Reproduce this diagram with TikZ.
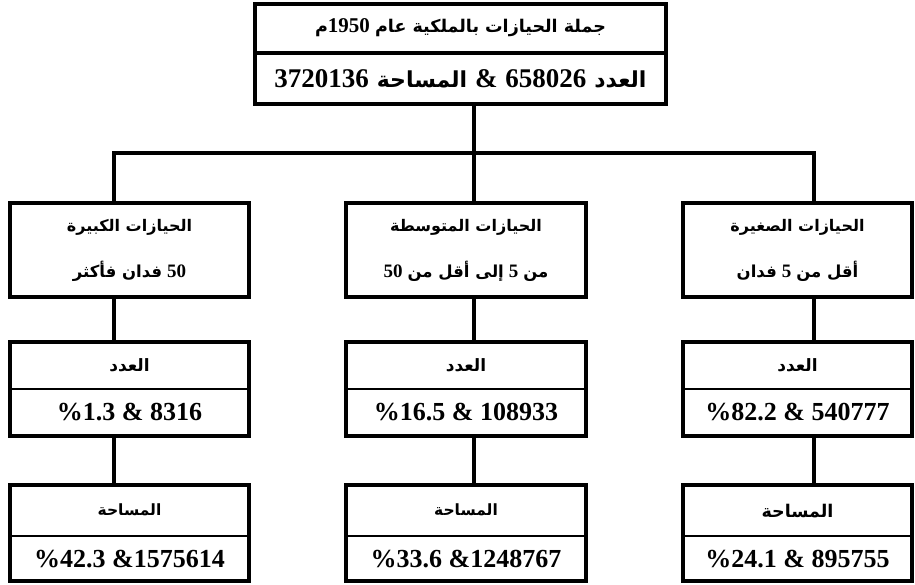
\documentclass[tikz,border=0pt]{standalone}
\usepackage{fontspec}
\TeXXeTstate=1
\newfontfamily\arabicfont[Script=Arabic]{DejaVu Sans}
\newfontfamily\numfont{Liberation Serif}
% Arabic words, numbers and size switches
\newcommand\arw[1]{{\arabicfont\bfseries #1}}
\newcommand\nm[1]{\beginL{\numfont\bfseries #1}\endL}
\newcommand\sz[1]{\fontsize{#1}{#1}\selectfont}

\begin{document}
\begin{tikzpicture}[x=1pt,y=-1pt,
  frame/.style={draw, rectangle, line width=4pt, inner sep=0pt},
  thick rule/.style={line width=4pt},
  thin rule/.style={line width=1.3pt},
  link/.style={line width=4pt},
  lbl/.style={inner sep=0pt, anchor=center}]
\useasboundingbox (0,0) rectangle (915,584);

% ---- top box ----
\node[frame, minimum width=411pt, minimum height=100pt] (top) at (460.5,54) {};
\draw[thick rule] (top.west |- 0,53) -- (top.east |- 0,53);
\node[lbl] (topA) at (460.5,28) {\sz{17.5}\beginR\arw{جملة الحيازات بالملكية عام} \nm{\sz{21}1950}\arw{م}\endR};
\node[lbl] (topB) at (460.5,79) {\sz{26}\beginR\arw{\sz{22}العدد} \nm{\sz{27}658026} \nm{\sz{27}\&} \arw{\sz{22}المساحة} \nm{\sz{27}3720136}\endR};

% ---- category boxes ----
\node[frame, minimum width=239pt, minimum height=94pt] (lg1) at (129.5,250) {};
\node[frame, minimum width=240pt, minimum height=94pt] (md1) at (466,250) {};
\node[frame, minimum width=229pt, minimum height=94pt] (sm1) at (797.5,250) {};

\node[lbl] (lg1a) at (129.5,227) {\sz{16}\beginR\arw{الحيازات الكبيرة}\endR};
\node[lbl] (lg1b) at (129.5,271) {\sz{16.5}\beginR\nm{\sz{19}50} \arw{فدان فأكثر}\endR};
\node[lbl] (md1a) at (466,227) {\sz{16}\beginR\arw{الحيازات المتوسطة}\endR};
\node[lbl] (md1b) at (466,271) {\sz{16.5}\beginR\arw{من} \nm{\sz{19}5} \arw{إلى أقل من} \nm{\sz{19}50}\endR};
\node[lbl] (sm1a) at (797.5,227) {\sz{16}\beginR\arw{الحيازات الصغيرة}\endR};
\node[lbl] (sm1b) at (797.5,271) {\sz{16.5}\beginR\arw{أقل من} \nm{\sz{19}5} \arw{فدان}\endR};

% ---- count boxes ----
\node[frame, minimum width=239pt, minimum height=94pt] (lg2) at (129.5,389) {};
\node[frame, minimum width=240pt, minimum height=94pt] (md2) at (466,389) {};
\node[frame, minimum width=229pt, minimum height=94pt] (sm2) at (797.5,389) {};
\foreach \b in {lg2,md2,sm2} \draw[thin rule] (\b.west) -- (\b.east);

\node[lbl] (lg2a) at (129.5,365) {\sz{17}\beginR\arw{العدد}\endR};
\node[lbl] (md2a) at (466,365) {\sz{17}\beginR\arw{العدد}\endR};
\node[lbl] (sm2a) at (797.5,365) {\sz{17}\beginR\arw{العدد}\endR};
\node[lbl] (lg2b) at (129.5,412) {\numfont\bfseries\sz{26}\%1.3 \& 8316};
\node[lbl] (md2b) at (466,412) {\numfont\bfseries\sz{26}\%16.5 \& 108933};
\node[lbl] (sm2b) at (797.5,412) {\numfont\bfseries\sz{26}\%82.2 \& 540777};

% ---- area boxes ----
\node[frame, minimum width=239pt, minimum height=96pt] (lg3) at (129.5,533) {};
\node[frame, minimum width=240pt, minimum height=96pt] (md3) at (466,533) {};
\node[frame, minimum width=229pt, minimum height=96pt] (sm3) at (797.5,533) {};
\foreach \b in {lg3,md3,sm3} \draw[thin rule] (\b.west |- 0,536) -- (\b.east |- 0,536);

\node[lbl] (lg3a) at (129.5,510) {\sz{15.5}\beginR\arw{المساحة}\endR};
\node[lbl] (md3a) at (466,510) {\sz{15.5}\beginR\arw{المساحة}\endR};
\node[lbl] (sm3a) at (797.5,511) {\sz{17.5}\beginR\arw{المساحة}\endR};
\node[lbl] (lg3b) at (129.5,559) {\numfont\bfseries\sz{26}\%42.3 \&1575614};
\node[lbl] (md3b) at (466,559) {\numfont\bfseries\sz{26}\%33.6 \&1248767};
\node[lbl] (sm3b) at (797.5,559) {\numfont\bfseries\sz{26}\%24.1 \& 895755};

% ---- connectors ----
\coordinate (hub) at (474,153);
\coordinate (busL) at (114,153);
\coordinate (busR) at (814,153);
\draw[link] (top.south -| hub) -- (hub);
\draw[link] (lg1.north -| busL) -- (busL) -- (busR) -- (sm1.north -| busR);
\draw[link] (hub) -- (md1.north -| hub);

\draw[link] (lg1.south -| busL) -- (lg2.north -| busL);
\draw[link] (lg2.south -| busL) -- (lg3.north -| busL);
\draw[link] (md1.south -| hub) -- (md2.north -| hub);
\draw[link] (md2.south -| hub) -- (md3.north -| hub);
\draw[link] (sm1.south -| busR) -- (sm2.north -| busR);
\draw[link] (sm2.south -| busR) -- (sm3.north -| busR);
\end{tikzpicture}
\end{document}
